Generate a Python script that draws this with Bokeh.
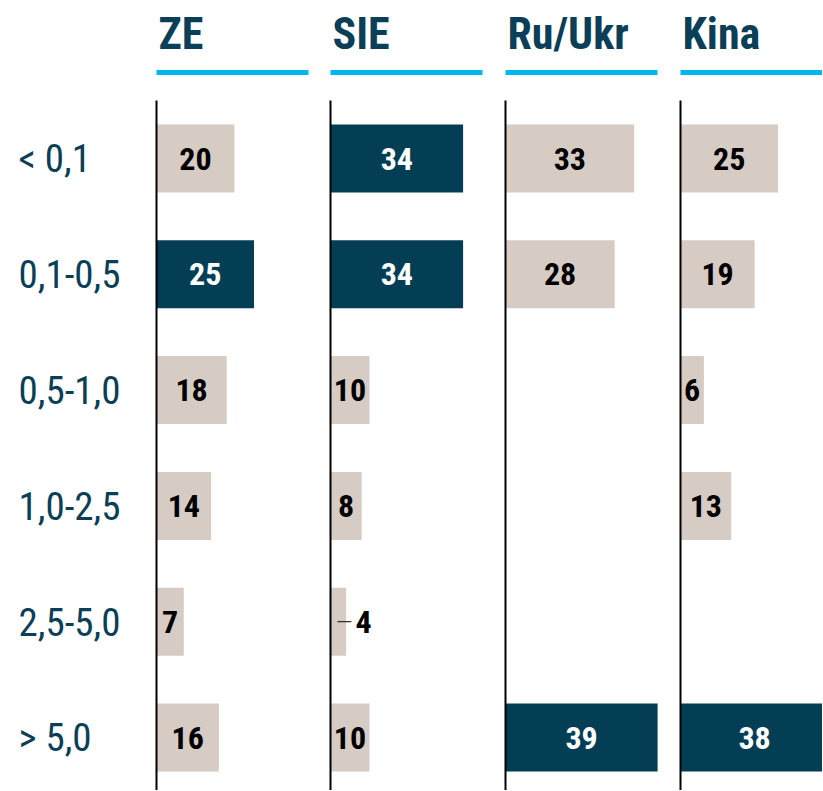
from bokeh.plotting import figure
from bokeh.layouts import row
from bokeh.models import Range1d, ColumnDataSource
from bokeh.core.properties import value
from bokeh.embed import file_html
from bokeh.resources import INLINE

categories = ["< 0,1", "0,1-0,5", "0,5-1,0", "1,0-2,5", "2,5-5,0", "> 5,0"]
panels = ["ZE", "SIE", "Ru/Ukr", "Kina"]
ze = [20, 25, 18, 14, 7, 16]
sie = [34, 34, 10, 8, 4, 10]
ru_ukr = [33, 28, None, None, None, 39]
kina = [25, 19, 6, 13, None, 38]
series = [ze, sie, ru_ukr, kina]

DARK = "#033e55"
LIGHT = "#d6ccc3"
CYAN = "#00b6f0"
TEAL = "#0a3f57"
NARROW = "Roboto Condensed, Liberation Sans Narrow, Arial Narrow, DejaVu Sans Condensed, sans-serif"

H = 790
PX = 3.9           # pixels per unit
ROW = 115.8        # pixels per row
TOP = 158.0        # frame top to first row centre (px)
y_top = TOP / ROW
y_bot = -(H - TOP) / ROW
y_range = Range1d(y_bot, y_top)


def base_fig(w, xr):
    f = figure(width=w, height=H, x_range=xr, y_range=y_range,
               output_backend="svg", toolbar_location=None,
               min_border=0, min_border_left=0, min_border_right=0,
               min_border_top=0, min_border_bottom=0)
    f.axis.visible = False
    f.grid.visible = False
    f.outline_line_color = None
    f.background_fill_color = "white"
    f.border_fill_color = "white"
    return f


ypos = [-i for i in range(len(categories))]

# category label column
LW = 154
lab = base_fig(LW, Range1d(0, LW))
lab.text(x=[18] * len(categories), y=ypos, text=categories,
         text_font=value(NARROW), text_font_size="39px",
         text_color=TEAL, text_align="left", text_baseline="middle")

widths = [174, 175, 175, 144]
figs = [lab]
for name, vals, w in zip(panels, series, widths):
    x0 = -2 / PX
    f = base_fig(w, Range1d(x0, x0 + w / PX))
    # header and underline
    f.text(x=[0.5], y=[(TOP - 33) / ROW], text=[name],
           text_font=value(NARROW), text_font_size="44px",
           text_font_style="bold", text_color=TEAL,
           text_align="left", text_baseline="middle")
    f.segment(x0=[0], x1=[152 / PX], y0=[(TOP - 72) / ROW], y1=[(TOP - 72) / ROW],
              line_color=CYAN, line_width=5)
    ys, vs = [], []
    for y, v in zip(ypos, vals):
        if v is not None:
            ys.append(y)
            vs.append(v)
    vmax = max(vs)
    colors = [DARK if v == vmax else LIGHT for v in vs]
    tcol = ["white" if v == vmax else "black" for v in vs]
    src = ColumnDataSource(dict(y=ys, v=vs, c=colors, t=tcol,
                                lab=[str(v) for v in vs]))
    f.hbar(y="y", left=0, right="v", height=68 / ROW, fill_color="c",
           line_color=None, source=src)
    # axis line
    f.segment(x0=[0], x1=[0], y0=[(TOP - 100) / ROW], y1=[y_bot - 1],
              line_color="black", line_width=2)
    inside = [(y, v, t) for y, v, t in zip(ys, vs, tcol) if v >= 5]
    outside = [(y, v) for y, v in zip(ys, vs) if v < 5]
    if inside:
        f.text(x=[v / 2 for _, v, _ in inside], y=[y for y, _, _ in inside],
               text=[str(v) for _, v, _ in inside],
               text_color=[t for _, _, t in inside],
               text_font=value(NARROW), text_font_size="32px",
               text_font_style="bold", text_align="center", text_baseline="middle")
    if outside:
        f.segment(x0=[v * 0.45 for _, v in outside], x1=[v + 1.35 for _, v in outside],
                  y0=[y for y, _ in outside], y1=[y for y, _ in outside],
                  line_color="#303030", line_width=1.3)
        f.text(x=[v + 2.4 for _, v in outside], y=[y for y, _ in outside],
               text=[str(v) for _, v in outside], text_color="black",
               text_font=value(NARROW), text_font_size="32px",
               text_font_style="bold", text_align="left", text_baseline="middle")
    figs.append(f)

p = row(*figs, spacing=0)
open("out.html", "w").write(file_html(p, INLINE))
